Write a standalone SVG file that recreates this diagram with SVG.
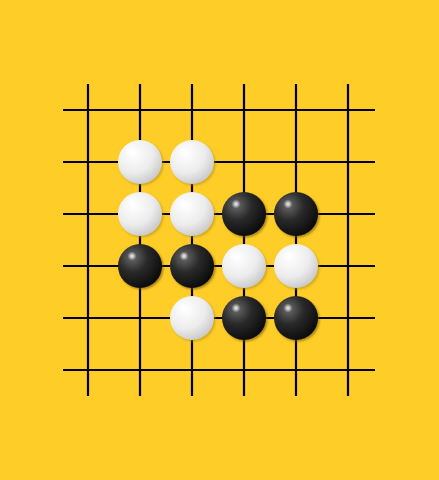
<svg xmlns="http://www.w3.org/2000/svg" width="439" height="480" viewBox="0 0 439 480">
<defs>
<radialGradient id="wg" cx="0.35" cy="0.3" r="0.75">
<stop offset="0" stop-color="#ffffff"/>
<stop offset="0.6" stop-color="#ececec"/>
<stop offset="1" stop-color="#c8c8c8"/>
</radialGradient>
<radialGradient id="bg" cx="0.33" cy="0.3" r="0.75">
<stop offset="0" stop-color="#6a6a6a"/>
<stop offset="0.45" stop-color="#2a2a2a"/>
<stop offset="1" stop-color="#0a0a0a"/>
</radialGradient>
<radialGradient id="hl" cx="0.5" cy="0.5" r="0.5">
<stop offset="0" stop-color="#ffffff" stop-opacity="0.95"/>
<stop offset="1" stop-color="#ffffff" stop-opacity="0"/>
</radialGradient>
<filter id="sh" x="-30%" y="-30%" width="160%" height="160%">
<feGaussianBlur stdDeviation="1"/>
</filter>
<g id="white">
<circle cx="1.5" cy="1.5" r="22" fill="#b08a10" opacity="0.55" filter="url(#sh)"/>
<circle r="22" fill="url(#wg)"/>
<circle cx="-9" cy="-11" r="5" fill="url(#hl)"/>
</g>
<g id="black">
<circle cx="1.5" cy="1.5" r="22" fill="#6a5008" opacity="0.6" filter="url(#sh)"/>
<circle r="22" fill="url(#bg)"/>
<circle cx="-8" cy="-10" r="4.5" fill="url(#hl)"/>
</g>
</defs>
<style>
.ln{stroke:#000;stroke-width:2.2;}
</style>
<rect width="439" height="480" fill="#ffcd27"/>
<g id="grid">
<line class="ln" x1="88" y1="84" x2="88" y2="396"/>
<line class="ln" x1="140" y1="84" x2="140" y2="396"/>
<line class="ln" x1="192" y1="84" x2="192" y2="396"/>
<line class="ln" x1="244" y1="84" x2="244" y2="396"/>
<line class="ln" x1="296" y1="84" x2="296" y2="396"/>
<line class="ln" x1="348" y1="84" x2="348" y2="396"/>
<line class="ln" x1="63" y1="110" x2="375" y2="110"/>
<line class="ln" x1="63" y1="162" x2="375" y2="162"/>
<line class="ln" x1="63" y1="214" x2="375" y2="214"/>
<line class="ln" x1="63" y1="266" x2="375" y2="266"/>
<line class="ln" x1="63" y1="318" x2="375" y2="318"/>
<line class="ln" x1="63" y1="370" x2="375" y2="370"/>
</g>
<g id="stones">
<use href="#white" x="140" y="162"/>
<use href="#white" x="192" y="162"/>
<use href="#white" x="140" y="214"/>
<use href="#white" x="192" y="214"/>
<use href="#white" x="244" y="266"/>
<use href="#white" x="296" y="266"/>
<use href="#white" x="192" y="318"/>
<use href="#black" x="244" y="214"/>
<use href="#black" x="296" y="214"/>
<use href="#black" x="140" y="266"/>
<use href="#black" x="192" y="266"/>
<use href="#black" x="244" y="318"/>
<use href="#black" x="296" y="318"/>
</g>
</svg>
